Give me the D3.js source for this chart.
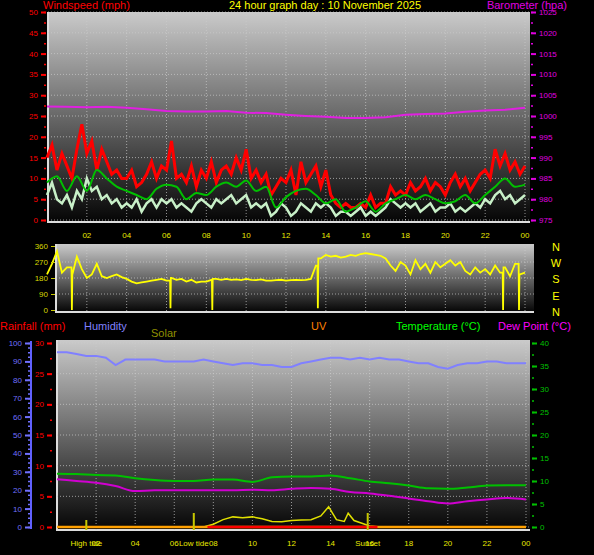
<!DOCTYPE html>
<html><head><meta charset="utf-8">
<script src="https://cdn.jsdelivr.net/npm/d3@7"></script>
<style>body{margin:0;background:#000}text{font-family:"Liberation Sans",Arial,sans-serif}</style>
</head><body>
<svg id="c" width="594" height="555"></svg>
<script>
// quarter-hour samples, hour 0..24
const gust = [15,18,12,16, 13,10,17,23, 16,19,12,17, 14,11,12,10, 10,12,8,9, 11,14,10,13,
  12,19,10,11, 9,13,8,12, 10,14,9,12, 13,11,15,12, 17,10,12,9, 11,6,8,10, 9,12,6,14,
  9,11,13,8, 12,6,4,3, 4,3,3,4, 3,6,3,4, 4,8,6,7, 6,9,7,8, 10,7,9,8, 6,9,11,8,
  10,7,9,11, 12,10,17,13, 16,12,14,11, 13];
const speed = [6,9,5,4, 6,3,7,5, 10,7,8,5, 6,4,5,3, 4,3,5,2, 4,5,3,5, 4,5,3,4, 3,2,4,5,
  4,3,5,4, 5,6,4,5, 6,3,4,3, 4,1,2,4, 3,1,2,4, 3,2,4,3, 4,3,1,2, 2,1,2,3, 1,2,1,2,
  3,5,4,3, 4,3,4,2, 3,4,2,3, 3,4,2,3, 2,3,4,3, 5,4,6,7, 5,6,4,5, 6];
// half-hour samples
const avgWind = [9,10.5,7,10.5,7,12,10,8,7,6,5,7.5,8.5,8,5,6.5,6,8,9,8,9.5,7,8,3,5.5,7,7.5,6,
  4,5,2,3,4.5,2,4,5,6,5,6,5,4,4.5,6,4,6,8,10,8,8.5];
const humidity = [95,95,94,93,93,92,88,91,91,91,91,90,90,90,90,91,90,89,88,89,89,88,88,87,87,
  89,90,91,92,92,91,92,91,92,91,91,90,89,89,87,86,88,89,89,90,90,89,89,89];
// hourly samples
const baro = [1002.3,1002.2,1002.1,1002.2,1002,1001.6,1001.2,1001.1,1001.1,1001.2,1000.8,1000.7,
  1000.3,1000,999.8,999.5,999.5,999.7,1000.3,1000.5,1000.6,1001,1001.3,1001.5,1002];
const temperature = [11.6,11.5,11.3,11.2,10.6,10.2,10,10,10.3,10.3,9.8,10.8,11,11,11.2,10.6,9.9,
  9.5,9,8.4,8.3,8.6,9,9.1,9.1];
const dewPoint = [10.4,10,9.6,8.9,7.8,8,8,8,8,8,8.1,8,8.3,8.5,8.3,7.6,7.3,6.8,6.2,5.6,5.1,5.6,6,6.3,6];
const direction = [200,260,330,210, 240,190,300,230, 180,200,260,190, 180,190,200,185,
  175,160,150,155, 160,165,170,175, 165,180,170,175, 160,170,155,160, 160,170,175,170,
  175,170,172,168, 175,170,168,172, 165,165,168,170, 165,168,170,168, 170,175,250,290,
  310,300,305,295, 300,310,305,315, 320,315,310,305, 290,250,220,270, 250,200,280,230,
  260,210,270,240, 260,280,250,270, 220,200,240,210, 230,200,250,210, 240,190,260,200, 210];
const dirSpikes = [[1.25,0],[6.2,10],[8.3,0],[13.6,10],[22.9,0],[23.7,0]];
const solarHours = [7.5,8,8.5,9,9.5,10,10.5,11,11.5,12,12.5,13,13.5,13.9,14.3,14.7,14.9,15.2,15.6,16,16.5];
const solarValues = [0,15,40,55,50,55,45,30,28,35,38,40,60,110,40,30,75,35,20,5,0];
const rainSpan = [7.7, 16.4];
const markers = [["High tide",1.5,8],["Low tide",7.0,15],["Sunset",15.9,15]];
const hourTicks = [2,4,6,8,10,12,14,16,18,20,22,24];
const hourLabel = h => String(h % 24).padStart(2, "0");

const svg = d3.select("#c");
const defs = svg.append("defs");
const g = defs.append("linearGradient").attr("id", "bg").attr("x1", 0).attr("x2", 0).attr("y1", 0).attr("y2", 1);
g.append("stop").attr("offset", "0%").attr("stop-color", "#cacaca");
g.append("stop").attr("offset", "100%").attr("stop-color", "#050505");

function panel(x0, x1, y0, y1) {
  svg.append("rect").attr("x", x0).attr("y", y0).attr("width", x1 - x0).attr("height", y1 - y0).attr("fill", "url(#bg)");
  svg.append("path").attr("d", `M${x0},${y0}V${y1}H${x1}`).attr("stroke", "#ddd").attr("fill", "none").attr("stroke-width", 2);
}
function grid(xs, ys, x0, x1, y0, y1) {
  xs.forEach(x => svg.append("line").attr("x1", x).attr("x2", x).attr("y1", y0).attr("y2", y1)
    .attr("stroke", "#ccc").attr("stroke-dasharray", "1,2").attr("opacity", 0.7));
  ys.forEach(y => svg.append("line").attr("x1", x0).attr("x2", x1).attr("y1", y).attr("y2", y)
    .attr("stroke", "#ccc").attr("stroke-dasharray", "1,2").attr("opacity", 0.7));
}
function label(x, y, t, col, anchor, size) {
  svg.append("text").attr("x", x).attr("y", y).text(t).attr("fill", col)
    .attr("font-size", size || 11).attr("text-anchor", anchor || "start");
}
function yAxis(scale, x, values, minor, col, side) {
  const ax = side === "left" ? d3.axisLeft(scale) : d3.axisRight(scale);
  const gg = svg.append("g").attr("transform", `translate(${x},0)`)
    .call(ax.tickValues(minor).tickFormat("").tickSize(2));
  gg.selectAll("line").attr("stroke", col).attr("stroke-width", 1.5);
  gg.select(".domain").remove();
  const g2 = svg.append("g").attr("transform", `translate(${x},0)`)
    .call(ax.tickValues(values).tickFormat(d3.format("d")).tickSize(5));
  g2.selectAll("line").attr("stroke", col).attr("stroke-width", 2);
  g2.selectAll("text").attr("fill", col).attr("font-size", 8).attr("font-family", "Liberation Sans");
  g2.select(".domain").remove();
  return g2;
}
const q = (arr, step) => arr.map((v, i) => [i * step, v]);

// ---------- top panel ----------
const T = {x0: 48, x1: 530, y0: 12, y1: 222};
const xTop = d3.scaleLinear().domain([0, 24]).range([47, 525]);
const yWind = d3.scaleLinear().domain([0, 50]).range([220, 12]);
const yBaro = d3.scaleLinear().domain([975, 1025]).range([220, 12]);
panel(T.x0, T.x1, T.y0, T.y1);
grid(hourTicks.map(xTop), d3.range(0, 51, 5).map(yWind), T.x0, T.x1, T.y0, T.y1);
const lineTop = d3.line().x(d => xTop(d[0])).y(d => yWind(d[1]));
svg.append("path").attr("d", lineTop(q(gust, 0.25))).attr("stroke", "#ff0000").attr("stroke-width", 3).attr("fill", "none");
svg.append("path").attr("d", lineTop(q(speed, 0.25))).attr("stroke", "#c8f0c8").attr("stroke-width", 2.5).attr("fill", "none");
svg.append("path").attr("d", lineTop.curve(d3.curveMonotoneX)(q(avgWind, 0.5))).attr("stroke", "#00c000").attr("stroke-width", 2).attr("fill", "none");
svg.append("path").attr("d", d3.line().x(d => xTop(d[0])).y(d => yBaro(d[1]))(q(baro, 1)))
  .attr("stroke", "#e020e0").attr("stroke-width", 2).attr("fill", "none");
yAxis(yWind, 46, d3.range(0, 51, 5), d3.range(0, 51, 2.5), "#ff0000", "left");
yAxis(yBaro, 531, d3.range(975, 1026, 5), d3.range(975, 1026, 2.5), "#e000e0", "right");
hourTicks.forEach(h => label(xTop(h), 238, hourLabel(h), "#e8e800", "middle", 8));
label(43, 9, "Windspeed (mph)", "#ff0000", "start", 11);
label(325, 9, "24 hour graph day : 10 November 2025", "#ffff00", "middle", 11);
label(567, 9, "Barometer (hpa)", "#e000e0", "end", 11);

// ---------- direction panel ----------
const xDir = xTop;
const yDir = d3.scaleLinear().domain([0, 360]).range([310, 246]);
panel(56, 534, 244, 312);
grid(hourTicks.map(xDir), [90, 180, 270].map(yDir), 56, 534, 244, 312);
const dirPts = q(direction, 0.25);
dirSpikes.forEach(s => {
  const i = d3.bisector(d => d[0]).left(dirPts, s[0]);
  dirPts.splice(i, 0, [s[0] - 0.02, dirPts[i - 1][1]], s, [s[0] + 0.02, dirPts[i][1]]);
});
svg.append("path").attr("d", d3.line().x(d => xDir(d[0])).y(d => yDir(d[1]))(dirPts))
  .attr("stroke", "#ffff00").attr("stroke-width", 1.8).attr("fill", "none");
const dg = svg.append("g").attr("transform", "translate(55,0)")
  .call(d3.axisLeft(yDir).tickValues([0, 90, 180, 270, 360]).tickSize(4));
dg.selectAll("line").attr("stroke", "#c8c800");
dg.selectAll("text").attr("fill", "#d8d800").attr("font-size", 8);
dg.select(".domain").remove();
["N", "W", "S", "E", "N"].forEach((c, i) => label(556, 251 + i * 16.2, c, "#ffff00", "middle", 11));

// ---------- bottom panel ----------
const B = {x0: 57, x1: 530, y0: 340, y1: 530};
const xBot = d3.scaleLinear().domain([0, 24]).range([57, 526]);
const yHum = d3.scaleLinear().domain([0, 100]).range([527, 343]);
const yRain = d3.scaleLinear().domain([0, 30]).range([527, 343]);
const yTemp = d3.scaleLinear().domain([0, 40]).range([527, 343]);
const ySolar = d3.scaleLinear().domain([0, 1000]).range([527, 343]);
panel(B.x0, B.x1, B.y0, B.y1);
grid(hourTicks.map(xBot), d3.range(0, 31, 5).map(yRain), B.x0, B.x1, B.y0, B.y1);
svg.append("path").attr("d", d3.line().x(d => xBot(d[0])).y(d => yHum(d[1]))(q(humidity, 0.5)))
  .attr("stroke", "#8080ff").attr("stroke-width", 2).attr("fill", "none");
svg.append("path").attr("d", d3.line().x(d => xBot(d[0])).y(d => yTemp(d[1])).curve(d3.curveMonotoneX)(q(temperature, 1)))
  .attr("stroke", "#00c000").attr("stroke-width", 2).attr("fill", "none");
svg.append("path").attr("d", d3.line().x(d => xBot(d[0])).y(d => yTemp(d[1])).curve(d3.curveMonotoneX)(q(dewPoint, 1)))
  .attr("stroke", "#d000d0").attr("stroke-width", 2).attr("fill", "none");
svg.append("path").attr("d", d3.line().x(d => xBot(d[0])).y(d => ySolar(d[1]))(solarHours.map((h, i) => [h, solarValues[i]])))
  .attr("stroke", "#e0e000").attr("stroke-width", 1.5).attr("fill", "none");
svg.append("line").attr("x1", xBot(0)).attr("x2", xBot(24)).attr("y1", yRain(0)).attr("y2", yRain(0))
  .attr("stroke", "#ffa000").attr("stroke-width", 2.5);
svg.append("line").attr("x1", xBot(rainSpan[0])).attr("x2", xBot(rainSpan[1])).attr("y1", yRain(0)).attr("y2", yRain(0))
  .attr("stroke", "#ff0000").attr("stroke-width", 2.5);
markers.forEach(m => {
  svg.append("line").attr("x1", xBot(m[1])).attr("x2", xBot(m[1])).attr("y1", 530).attr("y2", 530 - m[2] - 2)
    .attr("stroke", "#c8c800").attr("stroke-width", 2);
  label(xBot(m[1]), 546, m[0], "#e8e800", "middle", 8);
});
hourTicks.forEach(h => label(xBot(h), 546, hourLabel(h), "#e8e800", "middle", 8));
// humidity axis with blue spine
svg.append("line").attr("x1", 31).attr("x2", 31).attr("y1", 341).attr("y2", 529).attr("stroke", "#6060ff").attr("stroke-width", 2);
yAxis(yHum, 30, d3.range(0, 101, 10), d3.range(0, 101, 2.5), "#7070ff", "left");
yAxis(yRain, 52, d3.range(0, 31, 5), d3.range(0, 31, 2.5), "#ff0000", "left");
yAxis(yTemp, 532, d3.range(0, 41, 5), d3.range(0, 41, 2.5), "#00c000", "right");
label(0, 330, "Rainfall (mm)", "#ff0000", "start", 11);
label(84, 330, "Humidity", "#8080ff", "start", 11);
label(151, 337, "Solar", "#909000", "start", 11);
label(311, 330, "UV", "#ff8000", "start", 11);
label(396, 330, "Temperature (°C)", "#00ff00", "start", 11);
label(498, 330, "Dew Point (°C)", "#ff00ff", "start", 11);
</script>
</body></html>
